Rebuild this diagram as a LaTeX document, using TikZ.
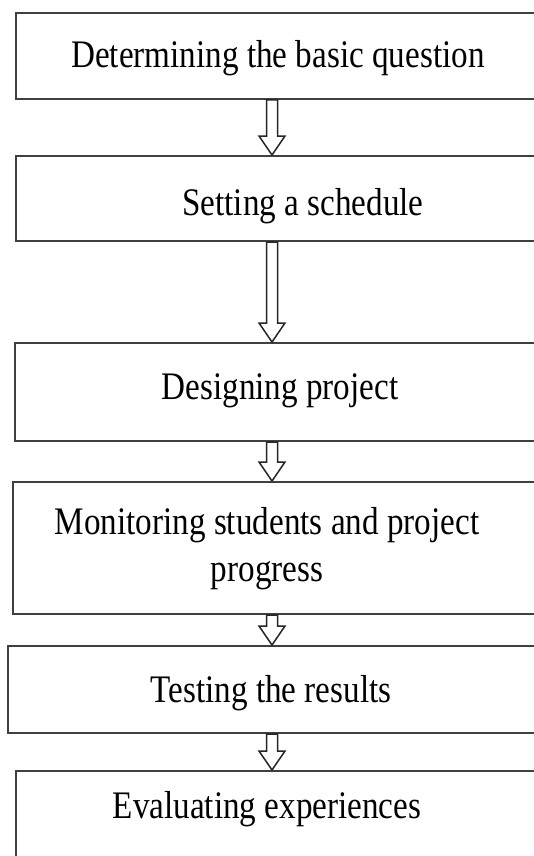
\documentclass[tikz,border=0pt]{standalone}
\usepackage{fontspec}
\setmainfont{Liberation Serif}[FakeStretch=0.85]
\usetikzlibrary{calc}

\tikzset{
  stagebox/.style={draw=black!75, line width=1pt, anchor=north west, inner sep=0pt},
  stagetext/.style={font=\fontsize{19.5}{23.5}\selectfont, inner sep=0pt, align=center},
  flowarrow/.style={draw=black!85, line width=0.75pt, line join=miter, to path={
    let \p1=(\tikztostart), \p2=(\tikztotarget) in
    (\x1-2.75pt,\y1) -- (\x1-2.75pt,\y2+9.5pt) -- (\x1-6.5pt,\y2+9.5pt) -- (\x1,\y2)
    -- (\x1+6.5pt,\y2+9.5pt) -- (\x1+2.75pt,\y2+9.5pt) -- (\x1+2.75pt,\y1) -- cycle}}
}

\begin{document}
\begin{tikzpicture}[x=0.5pt, y=-0.5pt]
  \useasboundingbox (0,0) rectangle (534,856);
  \clip (0,0) rectangle (534,856);
  \fill[white] (0,0) rectangle (534,856);

  % stage boxes, running off the right edge
  \node[stagebox, minimum width=272.5pt, minimum height=43pt] (b1) at (15,12) {};
  \node[stagebox, minimum width=272.5pt, minimum height=42.5pt] (b2) at (15,155) {};
  \node[stagebox, minimum width=273pt, minimum height=49pt] (b3) at (14,342) {};
  \node[stagebox, minimum width=274pt, minimum height=66pt] (b4) at (12,481) {};
  \node[stagebox, minimum width=276.5pt, minimum height=43.5pt] (b5) at (7,645) {};
  \node[stagebox, minimum width=272.5pt, minimum height=60pt] (b6) at (15,770) {};

  % texts
  \node[stagetext, anchor=base] (t1) at (278,68) {Determining the basic question};
  \node[stagetext, anchor=base] (t2) at (303,215) {Setting a schedule};
  \node[stagetext, anchor=base] (t3) at (280,399) {Designing project};
  \node[stagetext, anchor=center] (t4) at (267,549) {Monitoring students and project\\progress};
  \node[stagetext, anchor=base] (t5) at (271,702) {Testing the results};
  \node[stagetext, anchor=base] (t6) at (267,818) {Evaluating experiences};

  % hollow arrows between the stages
  \coordinate (spine) at (272,0);
  \draw[flowarrow] (b1.south -| spine) to (b2.north -| spine);
  \draw[flowarrow] (b2.south -| spine) to (b3.north -| spine);
  \draw[flowarrow] (b3.south -| spine) to (b4.north -| spine);
  \draw[flowarrow] (b4.south -| spine) to (b5.north -| spine);
  \draw[flowarrow] (b5.south -| spine) to (b6.north -| spine);
\end{tikzpicture}
\end{document}
